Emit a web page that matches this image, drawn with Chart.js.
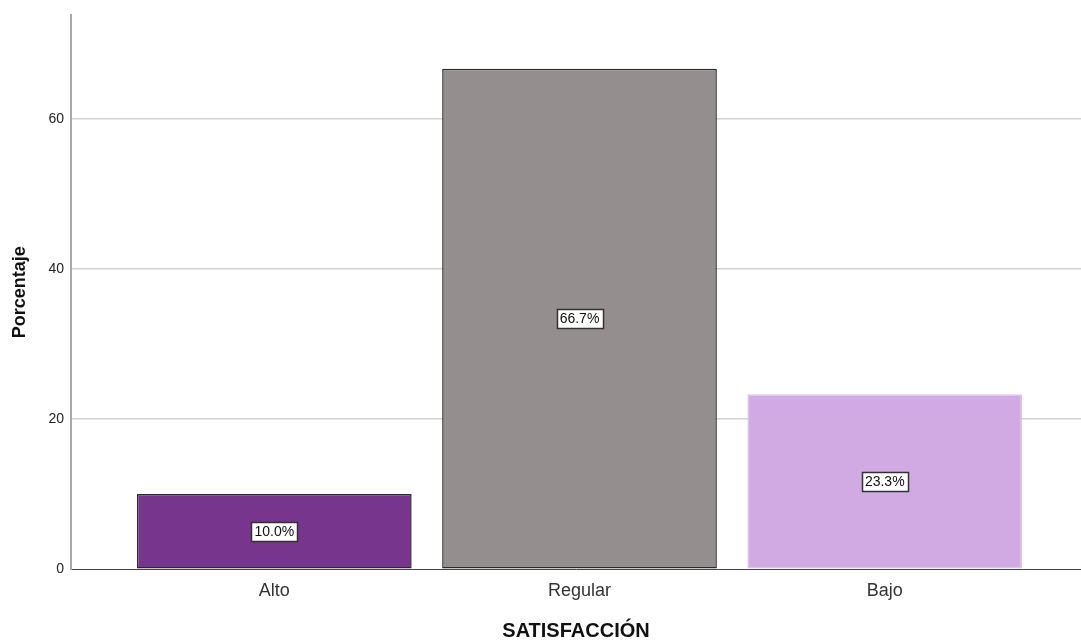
<!DOCTYPE html>
<html>
<head>
<meta charset="utf-8">
<script src="https://cdn.jsdelivr.net/npm/chart.js@4/dist/chart.umd.min.js"></script>
<style>
  html, body { margin: 0; padding: 0; background: #ffffff; }
  canvas { display: block; }
</style>
</head>
<body>
<canvas id="chart" width="1081" height="644"></canvas>
<script>
// Satisfaction levels and their percentages
const categories = ['Alto', 'Regular', 'Bajo'];
const percentages = [10.0, 66.7, 23.3];
const yTicks = [0, 20, 40, 60];
const barColors = ['#77358d', '#948f8e', '#d1aae3'];
const barBorders = ['#2b2b2b', '#2b2b2b', '#dcc3ea'];

const FONT = '"Liberation Sans", Arial, sans-serif';

// Boxed percentage label centered in each bar
const valueLabels = {
  id: 'valueLabels',
  afterDatasetsDraw(chart) {
    const ctx = chart.ctx;
    const meta = chart.getDatasetMeta(0);
    ctx.save();
    ctx.font = '14px ' + FONT;
    ctx.textAlign = 'center';
    ctx.textBaseline = 'middle';
    meta.data.forEach((bar, i) => {
      const text = percentages[i].toFixed(1) + '%';
      const cx = bar.x;
      const cy = (bar.y + bar.base) / 2;
      const w = Math.round(ctx.measureText(text).width + 6);
      const h = 19;
      const x0 = Math.round(cx - w / 2) + 0.5;
      const y0 = Math.round(cy - h / 2) + 0.5;
      ctx.fillStyle = '#ffffff';
      ctx.fillRect(x0, y0, w, h);
      ctx.strokeStyle = '#333333';
      ctx.lineWidth = 1.5;
      ctx.strokeRect(x0, y0, w, h);
      ctx.fillStyle = '#111111';
      ctx.fillText(text, cx, cy + 1);
    });
    ctx.restore();
  }
};

new Chart(document.getElementById('chart'), {
  type: 'bar',
  data: {
    datasets: [{
      data: percentages.map((v, i) => ({ x: i + 1, y: v })),
      backgroundColor: barColors,
      borderColor: barBorders,
      borderWidth: 1.5,
      borderSkipped: false,
      barPercentage: 0.9,
      categoryPercentage: 1.0
    }]
  },
  options: {
    responsive: false,
    animation: false,
    layout: { padding: { top: 14, right: 0, left: 0, bottom: 0 } },
    plugins: {
      legend: { display: false },
      tooltip: { enabled: false }
    },
    scales: {
      x: {
        type: 'linear',
        offset: false,
        min: 0.334,
        max: 3.643,
        grid: { display: false, drawTicks: false },
        border: { display: false },
        afterBuildTicks: (scale) => {
          scale.ticks = categories.map((c, i) => ({ value: i + 1 }));
        },
        afterFit: (scale) => { scale.height = 75; },
        ticks: {
          autoSkip: false,
          maxRotation: 0,
          padding: 11,
          color: '#333333',
          font: { family: FONT, size: 18 },
          callback: (v) => categories[v - 1]
        },
        title: {
          display: true,
          text: 'SATISFACCIÓN',
          color: '#111111',
          font: { family: FONT, size: 20, weight: 'bold' },
          padding: { top: 0, bottom: 1 }
        }
      },
      y: {
        min: 0,
        max: 73.8,
        afterBuildTicks: (scale) => {
          scale.ticks = yTicks.map(v => ({ value: v }));
        },
        afterFit: (scale) => { scale.width = 71; },
        grid: {
          drawTicks: false,
          color: (c) => (c.tick && c.tick.value === 0) ? '#444444' : '#d2d2d2',
          lineWidth: (c) => (c.tick && c.tick.value === 0) ? 1 : 1.5
        },
        border: { display: true, color: '#a8a8a8', width: 2 },
        ticks: {
          padding: 7,
          color: '#222222',
          font: { family: FONT, size: 14 }
        },
        title: {
          display: true,
          text: 'Porcentaje',
          color: '#111111',
          font: { family: FONT, size: 18, weight: 'bold' },
          padding: { top: 9, bottom: 0 }
        }
      }
    }
  },
  plugins: [valueLabels]
});
</script>
</body>
</html>
